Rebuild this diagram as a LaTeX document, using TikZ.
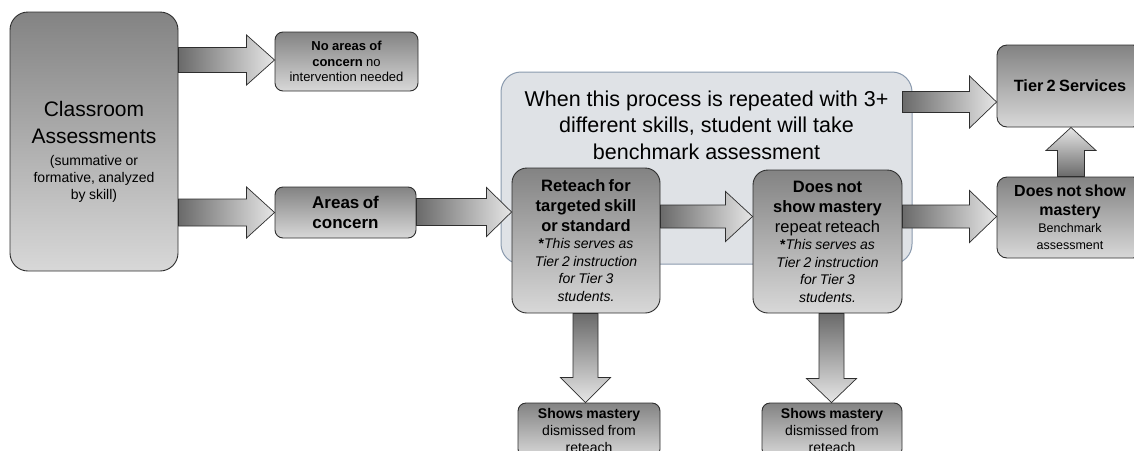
\documentclass[tikz,border=0pt]{standalone}
\usepackage{fontspec}
\setmainfont{Liberation Sans}
\usetikzlibrary{calc}
\definecolor{bxtop}{HTML}{838383}
\definecolor{bxbot}{HTML}{D8D8D8}
\definecolor{ardark}{HTML}{6A6A6A}
\definecolor{arlight}{HTML}{E6E6E6}
\definecolor{bigfill}{HTML}{DFE2E6}
\definecolor{bigline}{HTML}{8A9AAE}
\definecolor{edge}{HTML}{2E2E2E}
\newcommand\fs[2]{\fontsize{#1}{#2}\selectfont}
% horizontal block arrow: from, to, y centre, shaft half, head half, head length
\newcommand\harr[6]{\path[harrow] let \p1=(#1), \p2=(#2) in
 (\x1,{#3+#4}) -- ({\x2-#6},{#3+#4}) -- ({\x2-#6},{#3+#5}) -- (\x2,#3) --
 ({\x2-#6},{#3-#5}) -- ({\x2-#6},{#3-#4}) -- (\x1,{#3-#4}) -- cycle;}
% vertical block arrow: [style] from, to, x centre, shaft half, head half, signed head length
\newcommand\varr[7][darrow]{\path[#1] let \p1=(#2), \p2=(#3) in
 ({#4-#5},\y1) -- ({#4-#5},{\y2+#7}) -- ({#4-#6},{\y2+#7}) -- (#4,\y2) --
 ({#4+#6},{\y2+#7}) -- ({#4+#5},{\y2+#7}) -- ({#4+#5},\y1) -- cycle;}
\begin{document}
\begin{tikzpicture}[x=1pt,y=1pt,
 box/.style={draw=edge, line width=0.9pt, top color=bxtop, bottom color=bxbot, align=center, inner sep=2pt},
 harrow/.style={draw=edge, line width=0.7pt, left color=ardark, right color=arlight},
 darrow/.style={draw=edge, line width=0.7pt, top color=ardark, bottom color=arlight},
 uarrow/.style={draw=edge, line width=0.7pt, top color=arlight, bottom color=ardark},
 bigbox/.style={draw=bigline, line width=1pt, fill=bigfill, rounded corners=20pt}]
\useasboundingbox (0,0) rectangle (1134,-450);
\clip (0,0) rectangle (1134,-450);
\fill[white] (0,0) rectangle (1134,-450);

\node[bigbox, minimum width=411pt, minimum height=192pt,
 label={[anchor=north, align=center, font={\fs{21.5}{26.5}}, inner sep=0pt, yshift=-19pt]north:When this process is repeated with 3+\\different skills, student will take\\benchmark assessment}] (big) at (706.5,-168) {};

\node[box, rounded corners=18pt, minimum width=168pt, minimum height=259pt, text width=160pt] (cls) at (94,-141.5)
 {\par\vspace*{9pt}{\fs{21}{27}Classroom\\Assessments\par}\vspace{5pt}{\fs{14}{17}(summative or\\formative, analyzed\\by skill)\par}};

\node[box, rounded corners=8pt, minimum width=143pt, minimum height=59pt, text width=137pt] (noa) at (346.5,-61.5)
 {{\fs{13}{15.5}\textbf{No areas of}\\\textbf{concern} no\\intervention needed\par}};

\node[box, rounded corners=8pt, minimum width=141pt, minimum height=51pt, text width=135pt] (aoc) at (345.5,-212.5)
 {{\fs{17}{20}\bfseries Areas of\\concern\par}};

\node[box, rounded corners=15pt, minimum width=148pt, minimum height=145pt, text width=142pt] (ret) at (586,-240.5)
 {{\fs{16.5}{20}\bfseries Reteach for\\targeted skill\\or standard\par}{\fs{14}{17.5}\textbf{*}{\itshape This serves as\\Tier 2 instruction\\for Tier 3\\students.}\par}};

\node[box, rounded corners=15pt, minimum width=149pt, minimum height=143pt, text width=143pt] (dnsm) at (827.5,-241.5)
 {{\fs{16.5}{20}\bfseries Does not\\show mastery\par}{\fs{16.5}{20}repeat reteach\par}{\fs{14}{17.5}\textbf{*}{\itshape This serves as\\Tier 2 instruction\\for Tier 3\\students.}\par}\vspace*{24pt}};

\node[box, rounded corners=10pt, minimum width=146pt, minimum height=82pt, text width=140pt] (t2) at (1070,-86)
 {{\fs{16.3}{20}\bfseries Tier 2 Services\par}};

\node[box, rounded corners=10pt, minimum width=146pt, minimum height=81pt, text width=140pt] (dn2) at (1070,-217.5)
 {{\fs{16}{19.5}\bfseries Does not show\\mastery\par}{\fs{12.5}{17}Benchmark\\assessment\par}};

\node[box, rounded corners=8pt, minimum width=142pt, minimum height=54pt, text width=136pt] (sm1) at (589,-430)
 {{\fs{14}{17}\textbf{Shows mastery}\\dismissed from\\reteach\par}};

\node[box, rounded corners=8pt, minimum width=140pt, minimum height=54pt, text width=134pt] (sm2) at (832,-430)
 {{\fs{14}{17}\textbf{Shows mastery}\\dismissed from\\reteach\par}};

\harr{cls.east}{noa.west}{-60pt}{12.5pt}{25pt}{28pt}
\harr{cls.east}{aoc.west}{-212.5pt}{13.5pt}{25.5pt}{28pt}
\harr{aoc.east}{ret.west}{-212pt}{13.5pt}{24.5pt}{25pt}
\harr{ret.east}{dnsm.west}{-216.5pt}{11.5pt}{25pt}{27pt}
\harr{$(big.east)+(-10,0)$}{t2.west}{-102pt}{10.5pt}{26pt}{27pt}
\harr{dnsm.east}{dn2.west}{-216.5pt}{11.5pt}{26pt}{27pt}
\varr[uarrow]{dn2.north}{t2.south}{1071pt}{13.5pt}{25pt}{-23pt}
\varr[darrow]{ret.south}{sm1.north}{585.5pt}{12.5pt}{25pt}{25pt}
\varr[darrow]{dnsm.south}{sm2.north}{831.5pt}{12.5pt}{25pt}{24pt}
\end{tikzpicture}
\end{document}
